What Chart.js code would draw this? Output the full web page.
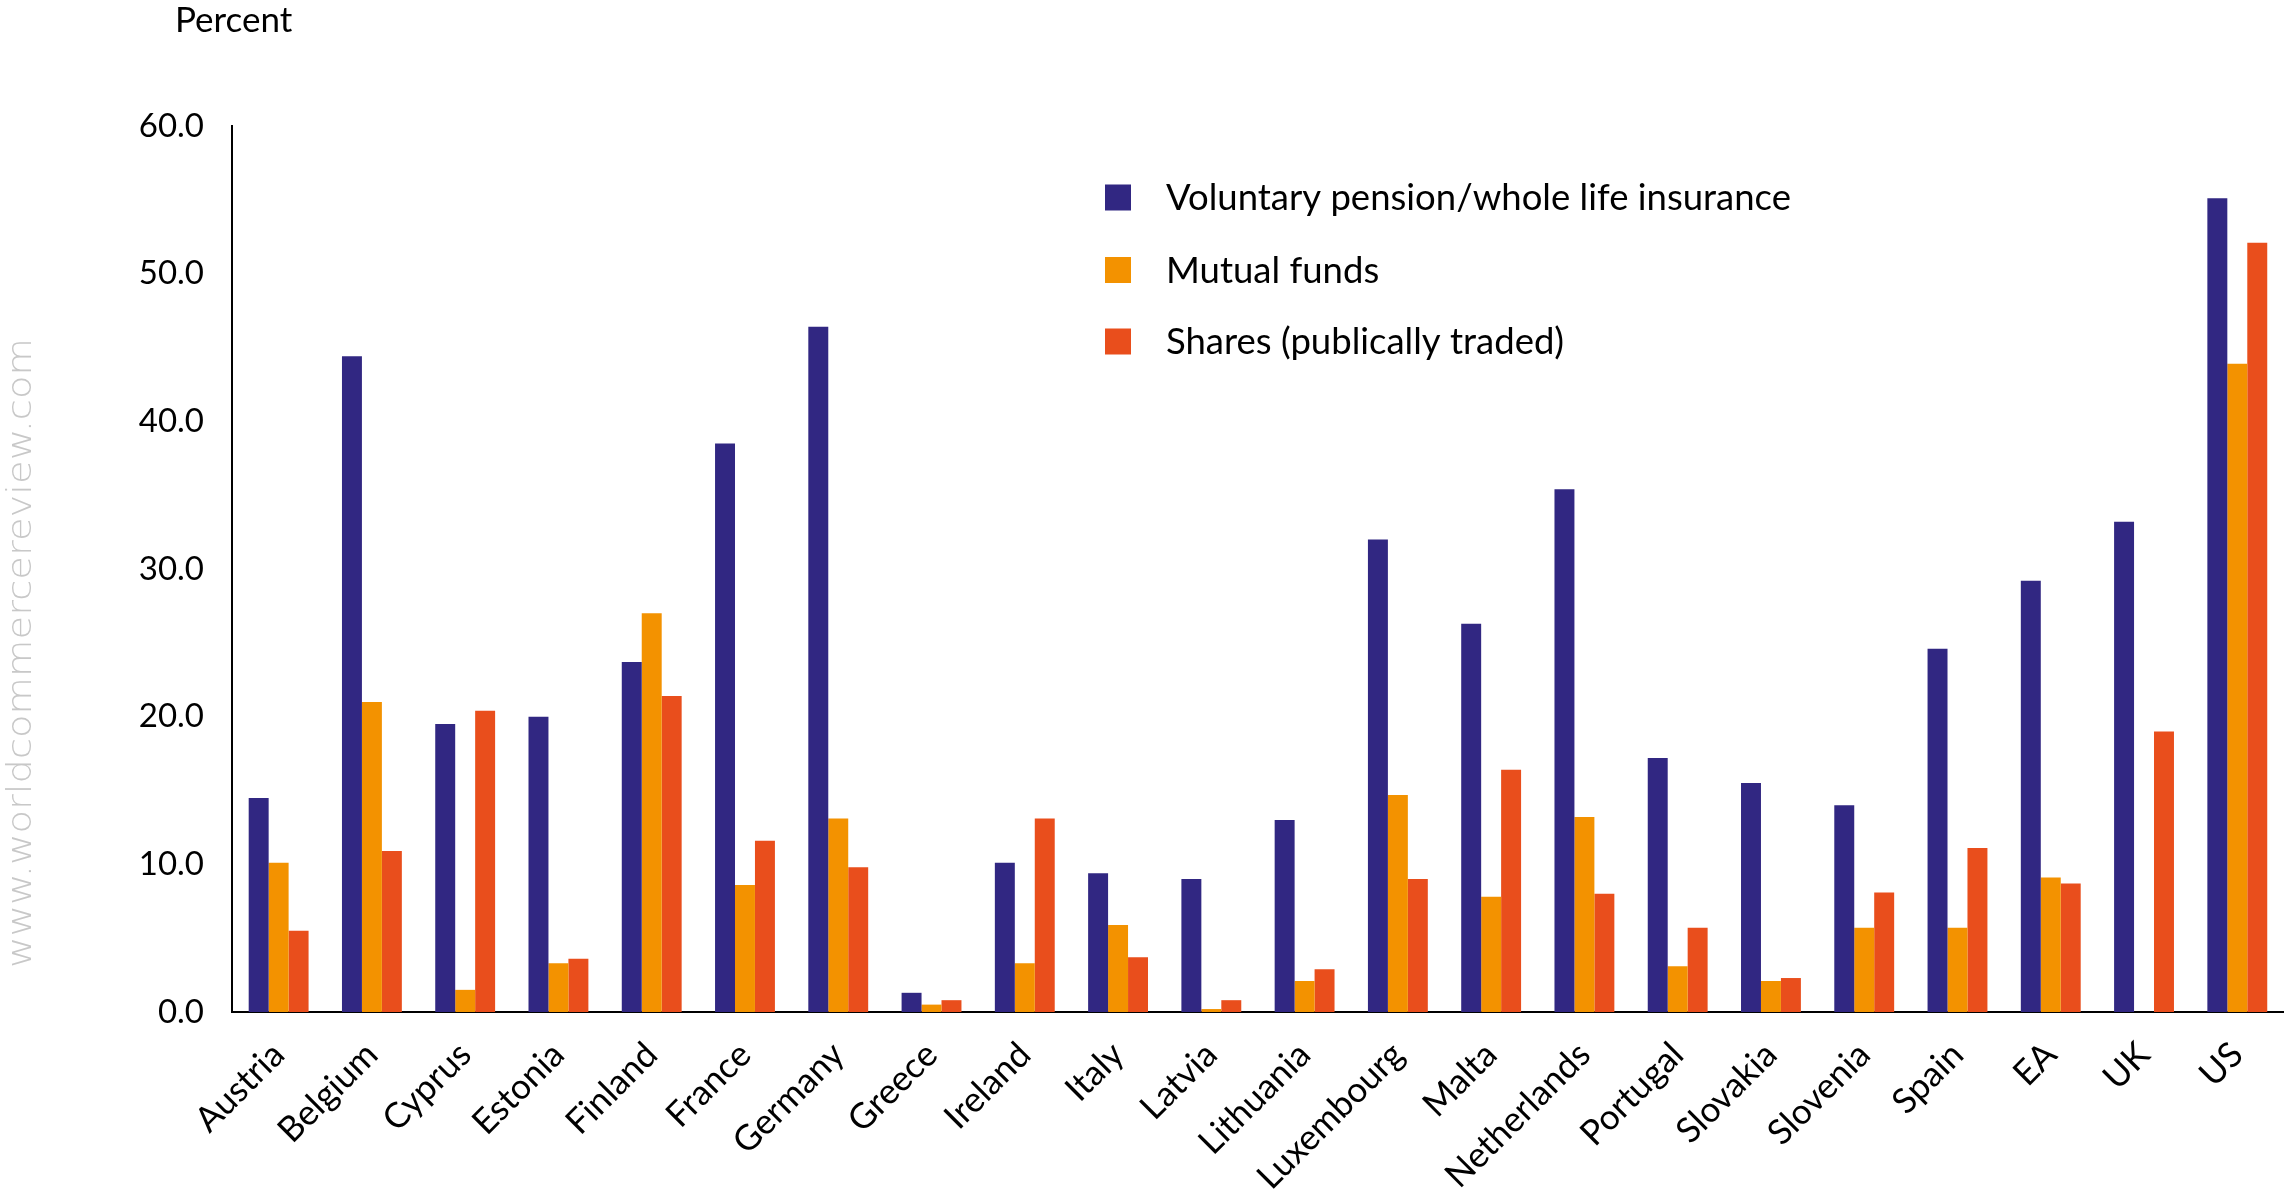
<!DOCTYPE html>
<html>
<head>
<meta charset="utf-8">
<title>Household financial assets</title>
<script src="https://cdn.jsdelivr.net/npm/chart.js@4.4.1/dist/chart.umd.min.js"></script>
<style>
  html, body { margin: 0; padding: 0; background: #ffffff; overflow: hidden; }
  #wrap { position: relative; width: 2289px; height: 1199px; }
</style>
</head>
<body>
<div id="wrap"><canvas id="chart" width="2289" height="1199"></canvas></div>
<script>
// Share of households holding each asset type, by country (percent)
const categories = ['Austria', 'Belgium', 'Cyprus', 'Estonia', 'Finland', 'France', 'Germany', 'Greece',
  'Ireland', 'Italy', 'Latvia', 'Lithuania', 'Luxembourg', 'Malta', 'Netherlands', 'Portugal',
  'Slovakia', 'Slovenia', 'Spain', 'EA', 'UK', 'US'];

const pensionValues = [14.5, 44.4, 19.5, 20.0, 23.7, 38.5, 46.4, 1.3, 10.1, 9.4, 9.0, 13.0,
  32.0, 26.3, 35.4, 17.2, 15.5, 14.0, 24.6, 29.2, 33.2, 55.1];
const mutualFundValues = [10.1, 21.0, 1.5, 3.3, 27.0, 8.6, 13.1, 0.5, 3.3, 5.9, 0.2, 2.1,
  14.7, 7.8, 13.2, 3.1, 2.1, 5.7, 5.7, 9.1, null, 43.9];
const shareValues = [5.5, 10.9, 20.4, 3.6, 21.4, 11.6, 9.8, 0.8, 13.1, 3.7, 0.8, 2.9,
  9.0, 16.4, 8.0, 5.7, 2.3, 8.1, 11.1, 8.7, 19.0, 52.1];

const seriesLabels = ['Voluntary pension/whole life insurance', 'Mutual funds', 'Shares (publically traded)'];
const yTicks = [0, 10, 20, 30, 40, 50, 60];
const yTitle = 'Percent';
const watermark = 'www.worldcommercereview.com';

const COLORS = ['#312782', '#f39200', '#e94e1c'];
const FONT = 'Lato, "Open Sans", sans-serif';

// Vertical watermark along the left edge
const watermarkPlugin = {
  id: 'watermark',
  beforeDraw(chart) {
    const ctx = chart.ctx;
    ctx.save();
    ctx.fillStyle = '#c8c8c8';
    ctx.font = '300 33px "DejaVu Sans", sans-serif';
    const w = ctx.measureText(watermark).width;
    const target = 630;
    ctx.translate(31, 968);
    ctx.rotate(-Math.PI / 2);
    ctx.scale(target / w, 1);
    ctx.textBaseline = 'alphabetic';
    ctx.textAlign = 'left';
    ctx.fillText(watermark, 0, 0);
    ctx.restore();
  }
};

// Axis caption and the stacked legend drawn inside the plot
const annotationsPlugin = {
  id: 'annotations',
  afterDraw(chart) {
    const ctx = chart.ctx;
    ctx.save();
    ctx.fillStyle = '#000000';
    ctx.font = '35px ' + FONT;
    ctx.textAlign = 'left';
    ctx.textBaseline = 'alphabetic';
    ctx.fillText(yTitle, 175, 32);

    const boxX = 1105, box = 26, textX = 1166;
    const rows = [197.5, 270, 341.5];
    ctx.font = '36.5px ' + FONT;
    ctx.textBaseline = 'middle';
    chart.data.datasets.forEach((ds, i) => {
      ctx.fillStyle = ds.backgroundColor;
      ctx.fillRect(boxX, rows[i] - box / 2, box, box);
      ctx.fillStyle = '#000000';
      ctx.fillText(ds.label, textX, rows[i] + 1);
    });
    ctx.restore();
  }
};

new Chart(document.getElementById('chart'), {
  type: 'bar',
  data: {
    labels: categories,
    datasets: [
      { label: seriesLabels[0], data: pensionValues, backgroundColor: COLORS[0] },
      { label: seriesLabels[1], data: mutualFundValues, backgroundColor: COLORS[1] },
      { label: seriesLabels[2], data: shareValues, backgroundColor: COLORS[2] }
    ]
  },
  options: {
    responsive: false,
    animation: false,
    devicePixelRatio: 1,
    layout: { padding: { left: 0, right: 0, top: 126, bottom: 0 } },
    datasets: {
      bar: { categoryPercentage: 0.642, barPercentage: 1.0, borderWidth: 0 }
    },
    plugins: {
      legend: { display: false },
      tooltip: { enabled: false },
      title: { display: false }
    },
    scales: {
      x: {
        grid: { display: false, drawTicks: false },
        border: { display: true, color: '#000000', width: 2 },
        ticks: {
          color: '#000000',
          font: { family: FONT, size: 35 },
          minRotation: 45,
          maxRotation: 45,
          padding: 22,
          autoSkip: false
        },
        afterFit(scale) { scale.height = 187; }
      },
      y: {
        min: 0,
        max: 60,
        afterBuildTicks(scale) { scale.ticks = yTicks.map(v => ({ value: v })); },
        grid: { display: false, drawTicks: false },
        border: { display: true, color: '#000000', width: 2 },
        ticks: {
          color: '#000000',
          font: { family: FONT, size: 33 },
          padding: 28,
          callback: (v) => Number(v).toFixed(1)
        },
        afterFit(scale) { scale.width = 232; }
      }
    }
  },
  plugins: [watermarkPlugin, annotationsPlugin]
});
</script>
</body>
</html>
